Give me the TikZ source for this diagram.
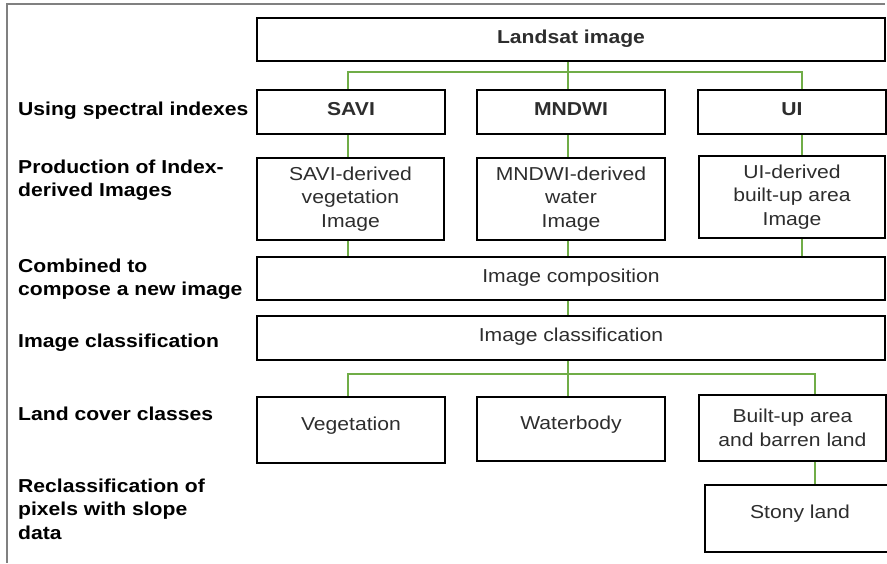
\documentclass[tikz,border=0pt]{standalone}
\usepackage{fontspec}
\setmainfont{Liberation Sans}[FakeStretch=1.13]
\newcommand\myfs{\fontsize{18.7}{23.5}\selectfont}
\definecolor{greenc}{RGB}{112,173,71}
\definecolor{framec}{RGB}{128,128,128}
\definecolor{txtc}{RGB}{45,45,45}
\begin{document}
\begin{tikzpicture}[x=1pt,y=-1pt,
  box/.style={draw=black, line width=2.2pt, inner sep=0pt, align=center, font=\myfs, text=txtc},
  one/.style={text height=13.5pt, text depth=6pt},
  low/.style={text height=13.5pt, text depth=13.5pt},
  gl/.style={draw=greenc, line width=2.2pt},
  lab/.style={font=\myfs\bfseries, inner sep=0pt, align=left, text=black}]
\useasboundingbox (0,0) rectangle (887,563);
% frame
\draw[framec, line width=1.6pt] (885,4) -- (7,4) -- (7,563);
% boxes
\node[box, one, minimum width=628, minimum height=43] (land) at (571,39.5) {\bfseries Landsat image};
\node[box, one, minimum width=188, minimum height=44] (savi) at (351,112) {\bfseries SAVI};
\node[box, one, minimum width=188, minimum height=44] (mndwi) at (571,112) {\bfseries MNDWI};
\node[box, one, minimum width=188, minimum height=44] (ui) at (792,112) {\bfseries UI};
\node[box, minimum width=187, minimum height=82] (savid) at (350.5,199) {SAVI-derived\\vegetation\\Image};
\node[box, minimum width=188, minimum height=82] (mndwid) at (571,199) {MNDWI-derived\\water\\Image};
\node[box, minimum width=186, minimum height=82] (uid) at (792,197) {UI-derived\\built-up area\\Image};
\node[box, one, minimum width=628, minimum height=43] (comp) at (571,278.5) {Image composition};
\node[box, one, minimum width=628, minimum height=44] (clas) at (571,338) {Image classification};
\node[box, low, minimum width=188, minimum height=66] (veg) at (351,430) {Vegetation};
\node[box, low, minimum width=188, minimum height=64] (water) at (571,429) {Waterbody};
\node[box, minimum width=187, minimum height=66] (built) at (792.5,428) {Built-up area\\and barren land};
\node[box, low, minimum width=190, minimum height=67] (stony) at (800,518.5) {Stony land};
% junction coordinates
\coordinate (tl) at (348,72);
\coordinate (tm) at (568,72);
\coordinate (tr) at (802,72);
\coordinate (bl) at (348,374);
\coordinate (bm) at (568,374);
\coordinate (br) at (815,374);
% green connectors
\draw[gl] (tm |- land.south) -- (tm |- mndwi.north);
\draw[gl] (tl |- savi.north) -- (tl) -- (tr) -- (tr |- ui.north);
\draw[gl] (tl |- savi.south) -- (tl |- savid.north);
\draw[gl] (tm |- mndwi.south) -- (tm |- mndwid.north);
\draw[gl] (tr |- ui.south) -- (tr |- uid.north);
\draw[gl] (tl |- savid.south) -- (tl |- comp.north);
\draw[gl] (tm |- mndwid.south) -- (tm |- comp.north);
\draw[gl] (tr |- uid.south) -- (tr |- comp.north);
\draw[gl] (bm |- comp.south) -- (bm |- clas.north);
\draw[gl] (bm |- clas.south) -- (bm |- water.north);
\draw[gl] (bl |- veg.north) -- (bl) -- (br) -- (br |- built.north);
\draw[gl] (br |- built.south) -- (br |- stony.north);
% left labels
\node[lab, anchor=base west] (l1) at (18,115) {Using spectral indexes};
\node[lab, anchor=north west] (l2) at (18,159.5) {Production of Index-\\derived Images};
\node[lab, anchor=north west] (l3) at (18,258.5) {Combined to\\compose a new image};
\node[lab, anchor=base west] (l4) at (18,347) {Image classification};
\node[lab, anchor=base west] (l5) at (18,420) {Land cover classes};
\node[lab, anchor=north west] (l6) at (18,478.5) {Reclassification of\\pixels with slope\\data};
\end{tikzpicture}
\end{document}
